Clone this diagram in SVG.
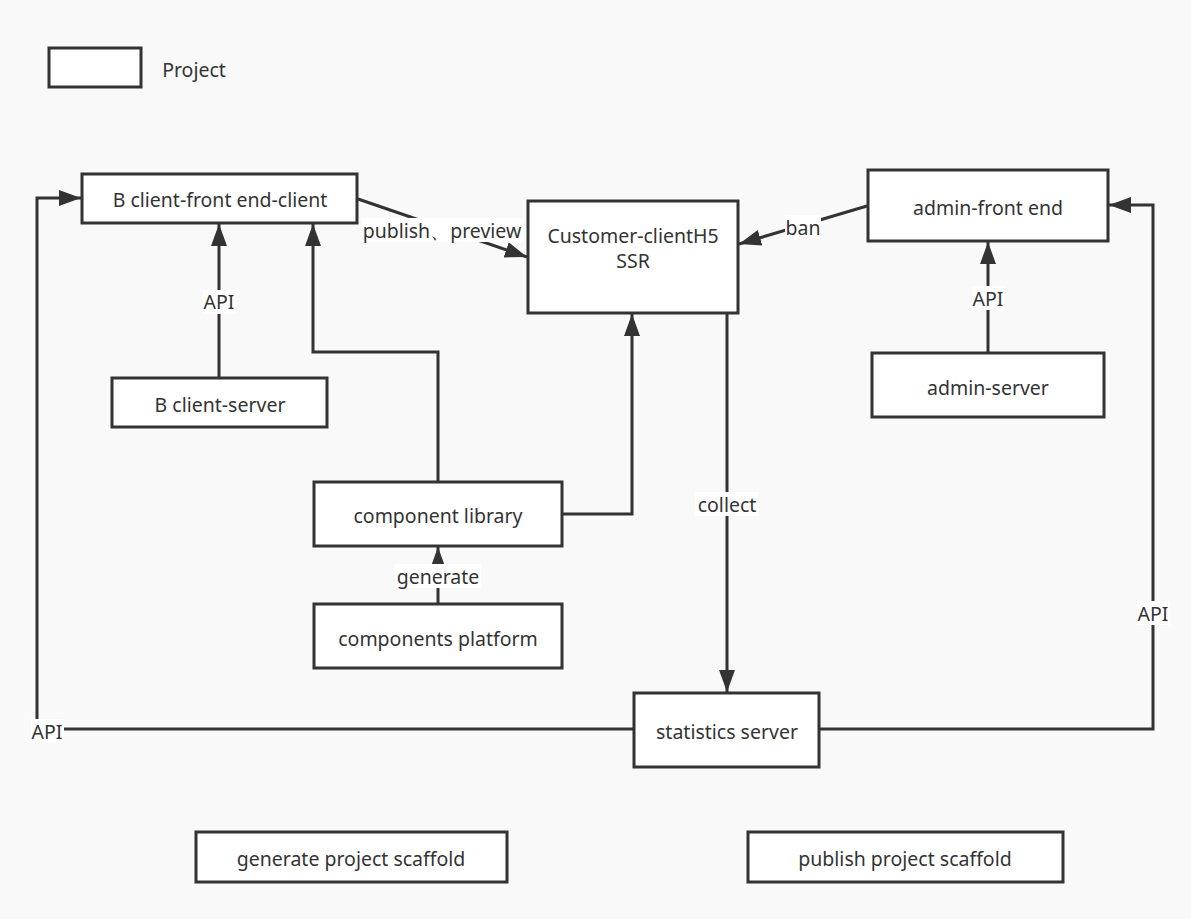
<svg xmlns="http://www.w3.org/2000/svg" width="1191" height="919" viewBox="0 0 1191 919">
<style>
.box{fill:#fff;stroke:#333;stroke-width:3}
.t{font-family:"Noto Sans","Liberation Sans",sans-serif;font-size:19.5px;fill:#333;text-anchor:middle;dominant-baseline:central}
.ln{fill:none;stroke:#333;stroke-width:3}
.lb{fill:#fff}
</style>
<defs>
<marker id="ar" markerUnits="userSpaceOnUse" markerWidth="24" markerHeight="18" refX="22" refY="8" orient="auto">
<path d="M0,0 L22,8 L0,16 z" fill="#333"/>
</marker>
</defs>
<rect width="1191" height="919" fill="#f9f9f9"/>

<g id="legend">
<rect class="box" x="49" y="48" width="92" height="39"/>
<text class="t" x="194" y="69">Project</text>
</g>

<g id="connectors">
<line class="ln" x1="219" y1="378" x2="219" y2="224" marker-end="url(#ar)"/>
<polyline class="ln" points="438,482 438,352 313,352 313,224" marker-end="url(#ar)"/>
<polyline class="ln" points="562,514 632,514 632,314" marker-end="url(#ar)"/>
<line class="ln" x1="727" y1="313" x2="727" y2="692" marker-end="url(#ar)"/>
<polyline class="ln" points="634,729 37,729 37,198 81,198" marker-end="url(#ar)"/>
<polyline class="ln" points="819,729 1153,729 1153,205 1109,205" marker-end="url(#ar)"/>
<line class="ln" x1="988" y1="353" x2="988" y2="242" marker-end="url(#ar)"/>
<line class="ln" x1="867" y1="206" x2="739" y2="244" marker-end="url(#ar)"/>
<line class="ln" x1="358" y1="199" x2="527" y2="257" marker-end="url(#ar)"/>
<line class="ln" x1="438" y1="604" x2="438" y2="547" marker-end="url(#ar)"/>

<rect class="lb" x="203" y="290" width="33" height="24"/>
<text class="t" x="219" y="301">API</text>
<rect class="lb" x="362" y="218" width="161" height="24"/>
<text class="t" x="442" y="230">publish、preview</text>
<rect class="lb" x="785" y="215" width="36" height="24"/>
<text class="t" x="803" y="227">ban</text>
<rect class="lb" x="972" y="286" width="33" height="24"/>
<text class="t" x="988" y="298">API</text>
<rect class="lb" x="695" y="492" width="64" height="24"/>
<text class="t" x="727" y="504">collect</text>
<rect class="lb" x="395" y="564" width="86" height="24"/>
<text class="t" x="438" y="576">generate</text>
<rect class="lb" x="31" y="719" width="33" height="24"/>
<text class="t" x="47" y="731">API</text>
<rect class="lb" x="1137" y="601" width="33" height="24"/>
<text class="t" x="1153" y="613">API</text>
</g>

<g id="b-client-front">
<rect class="box" x="82" y="174" width="275" height="49"/>
<text class="t" x="220" y="199">B client-front end-client</text>
</g>
<g id="b-client-server">
<rect class="box" x="112" y="378" width="215" height="49"/>
<text class="t" x="220" y="404">B client-server</text>
</g>
<g id="customer-client">
<rect class="box" x="528" y="201" width="210" height="112"/>
<text class="t" x="633" y="235">Customer-clientH5</text>
<text class="t" x="633" y="260">SSR</text>
</g>
<g id="admin-front">
<rect class="box" x="868" y="170" width="240" height="71"/>
<text class="t" x="988" y="207">admin-front end</text>
</g>
<g id="admin-server">
<rect class="box" x="872" y="353" width="232" height="64"/>
<text class="t" x="988" y="387">admin-server</text>
</g>
<g id="component-library">
<rect class="box" x="314" y="482" width="248" height="64"/>
<text class="t" x="438" y="515">component library</text>
</g>
<g id="components-platform">
<rect class="box" x="314" y="604" width="248" height="64"/>
<text class="t" x="438" y="638">components platform</text>
</g>
<g id="statistics-server">
<rect class="box" x="634" y="693" width="185" height="74"/>
<text class="t" x="727" y="731">statistics server</text>
</g>
<g id="generate-scaffold">
<rect class="box" x="196" y="832" width="311" height="50"/>
<text class="t" x="351" y="858">generate project scaffold</text>
</g>
<g id="publish-scaffold">
<rect class="box" x="748" y="832" width="315" height="50"/>
<text class="t" x="905" y="858">publish project scaffold</text>
</g>
</svg>
